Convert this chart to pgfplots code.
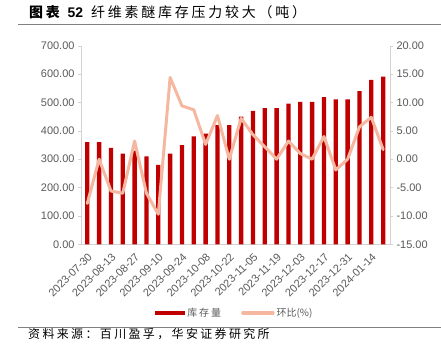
\documentclass[border=0pt]{standalone}
\usepackage{pgfplots}
\pgfplotsset{compat=1.18}
\usepackage{fontspec}
\setmainfont{Liberation Sans}
\newfontfamily\cjk{Noto Sans CJK SC}
\newfontfamily\cjkwide[LetterSpace=20]{Noto Sans CJK SC}
\definecolor{barred}{RGB}{192,0,0}
\definecolor{linesal}{RGB}{246,183,160}
\definecolor{tickgray}{RGB}{89,89,89}
\definecolor{axgray}{RGB}{210,210,210}
\definecolor{rulegray}{RGB}{128,128,128}

\pgfplotstableread{
x stock mom
0 360 -7.8
1 360 0.0
2 340 -5.6
3 320 -6.0
4 330 3.2
5 310 -6.0
6 280 -9.7
7 320 14.4
8 350 9.4
9 380 8.7
10 390 2.6
11 420 7.7
12 420 0.0
13 450 7.2
14 470 4.3
15 480 2.2
16 480 0.0
17 496 3.2
18 502 1.0
19 502 0.0
20 519 4.0
21 511 -1.9
22 511 0.0
23 540 5.7
24 580 7.4
25 591 1.7
}\datatable

\pgfplotsset{
  common/.style={
    at={(81bp,-244.3bp)}, anchor=south west,
    scale only axis, width=309bp, height=198.6bp,
    xmin=-0.53, xmax=25.58,
    tick label style={font=\fontsize{11}{13}\selectfont, text=tickgray},
    /pgf/number format/assume math mode=true,
    /pgf/number format/fixed, /pgf/number format/fixed zerofill,
    /pgf/number format/precision=2,
    tick align=outside, major tick length=3bp,
    every tick/.style={axgray},
    axis line style={axgray},
  }
}

\begin{document}
\begin{tikzpicture}[x=1bp,y=1bp]
\path[use as bounding box] (0,0) rectangle (441,-353);
\node[anchor=west, inner sep=0pt, font=\fontsize{14}{16}\selectfont] at (29,-12.5) {{\cjkwide\bfseries 图表}\hspace{5bp}\textbf{52}\hspace{8bp}{\cjkwide 纤维素醚库存压力较大（吨）}};
\draw[rulegray, line width=1bp] (18,-24.5) -- (441,-24.5);
\draw[rulegray, line width=1bp] (18,-327) -- (441,-327);
\node[anchor=west, inner sep=0pt, font=\cjkwide\fontsize{12}{14}\selectfont] at (28,-334) {资料来源：百川盈孚，华安证券研究所};

\begin{axis}[common,
  ymin=0, ymax=700, ytick={0,100,...,700},
  axis y line*=left, axis x line*=bottom,
  xtick={0,2,...,24},
  xticklabels={2023-07-30,2023-08-13,2023-08-27,2023-09-10,2023-09-24,2023-10-08,2023-10-22,2023-11-05,2023-11-19,2023-12-03,2023-12-17,2023-12-31,2024-01-14},
  x tick label style={rotate=45, anchor=north east, /pgf/number format/assume math mode=false},
  xtick style={draw=none},
  legend style={at={(0.498,-0.346)}, anchor=center, draw=none, fill=none,
    legend columns=2, font=\cjk\fontsize{10}{12}\selectfont, text=tickgray,
    /tikz/every even column/.append style={column sep=18bp}},
]
\addplot[ybar, bar width=4.3bp, fill=barred, draw=none,
  legend image code/.code={\fill[barred] (0bp,-2.2bp) rectangle (30bp,2.2bp);}]
  table[x=x, y=stock] {\datatable};
\addlegendentry{\cjkwide 库存量}
\addlegendimage{legend image code/.code={\draw[linesal, line width=3.5bp, line cap=round] (1bp,0bp) -- (31bp,0bp);}}
\addlegendentry{环比(\%)}
\end{axis}

\begin{axis}[common,
  ymin=-15, ymax=20, ytick={-15,-10,...,20},
  axis y line*=right, axis x line=none,
]
\addplot[linesal, line width=3bp, line join=round, line cap=round, mark=none]
  table[x=x, y=mom] {\datatable};
\end{axis}
\end{tikzpicture}
\end{document}
